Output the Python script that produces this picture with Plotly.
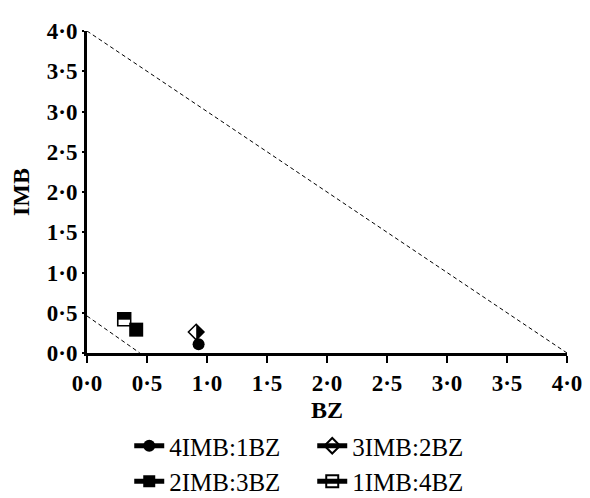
import plotly.graph_objects as go

series_names = ["4IMB:1BZ", "3IMB:2BZ", "2IMB:3BZ", "1IMB:4BZ"]
bz_values = [0.93, 0.91, 0.41, 0.31]
imb_values = [0.11, 0.26, 0.29, 0.42]

diag_outer_x = [0.0, 4.0]
diag_outer_y = [4.0, 0.0]
diag_inner_x = [0.0, 0.44]
diag_inner_y = [0.46, 0.0]

tick_vals = [0.0, 0.5, 1.0, 1.5, 2.0, 2.5, 3.0, 3.5, 4.0]
tick_text = ["0·0", "0·5", "1·0", "1·5", "2·0", "2·5", "3·0", "3·5", "4·0"]

serif = "Liberation Serif, Times New Roman, serif"

fig = go.Figure()
for xs, ys in [(diag_outer_x, diag_outer_y), (diag_inner_x, diag_inner_y)]:
    fig.add_trace(go.Scatter(x=xs, y=ys, mode="lines", showlegend=False,
                             line=dict(color="black", width=1, dash="4px,3px"),
                             hoverinfo="skip"))


def pt(i):
    return [bz_values[i]], [imb_values[i]]


# --- 3IMB:2BZ : diamond, right half black ---
x, y = pt(1)
fig.add_trace(go.Scatter(x=x, y=y, mode="markers", showlegend=False, hoverinfo="skip",
                         marker=dict(symbol="diamond", color="black", size=12, line=dict(width=0))))
fig.add_trace(go.Scatter(x=x, y=y, mode="markers", showlegend=False, hoverinfo="skip",
                         marker=dict(symbol="square", color="white", size=17, angle=90,
                                     standoff=8.5, line=dict(width=0))))
fig.add_trace(go.Scatter(x=x, y=y, name=series_names[1], mode="lines+markers", legendrank=2,
                         line=dict(color="black", width=2),
                         marker=dict(symbol="diamond-open", color="black", size=12,
                                     line=dict(color="black", width=1.5))))

# --- 1IMB:4BZ : square, top half black ---
x, y = pt(3)
fig.add_trace(go.Scatter(x=x, y=y, mode="markers", showlegend=False, hoverinfo="skip",
                         marker=dict(symbol="square", color="black", size=13, line=dict(width=0))))
fig.add_trace(go.Scatter(x=x, y=y, mode="markers", showlegend=False, hoverinfo="skip",
                         marker=dict(symbol="square", color="white", size=12, angle=0,
                                     standoff=6.5, line=dict(width=0))))
fig.add_trace(go.Scatter(x=x, y=y, name=series_names[3], mode="lines+markers", legendrank=4,
                         line=dict(color="black", width=2),
                         marker=dict(symbol="square-open", color="black", size=13,
                                     line=dict(color="black", width=1.5))))

# --- 4IMB:1BZ : filled circle ---
x, y = pt(0)
fig.add_trace(go.Scatter(x=x, y=y, name=series_names[0], mode="lines+markers", legendrank=1,
                         line=dict(color="black", width=2),
                         marker=dict(symbol="circle", color="black", size=12, line=dict(width=0))))

# --- 2IMB:3BZ : filled square ---
x, y = pt(2)
fig.add_trace(go.Scatter(x=x, y=y, name=series_names[2], mode="lines+markers", legendrank=3,
                         line=dict(color="black", width=2),
                         marker=dict(symbol="square", color="black", size=14, line=dict(width=0))))

axis_common = dict(
    range=[0, 4], tickvals=tick_vals, ticktext=tick_text,
    showline=True, linecolor="black", linewidth=3,
    ticks="outside", tickwidth=2, tickcolor="black",
    showgrid=False, zeroline=False,
    tickfont=dict(family=serif, size=23, color="black", weight="bold"),
)

fig.update_layout(
    width=582, height=490,
    margin=dict(l=79, r=23, t=23, b=145, autoexpand=False),
    paper_bgcolor="white", plot_bgcolor="white",
    xaxis=dict(**axis_common, ticklen=7,
               title=dict(text="BZ", font=dict(family=serif, size=24, color="black", weight="bold"),
                          standoff=16)),
    yaxis=dict(**axis_common, ticklen=2,
               title=dict(text="IMB", font=dict(family=serif, size=24, color="black", weight="bold"),
                          standoff=14)),
    legend=dict(orientation="h", x=0.088, xanchor="left",
                yref="container", y=0.153, yanchor="top",
                entrywidth=138, entrywidthmode="pixels",
                font=dict(family=serif, size=25, color="black"),
                tracegroupgap=0, itemsizing="constant"),
    showlegend=True,
)

fig.write_html("out.html")
